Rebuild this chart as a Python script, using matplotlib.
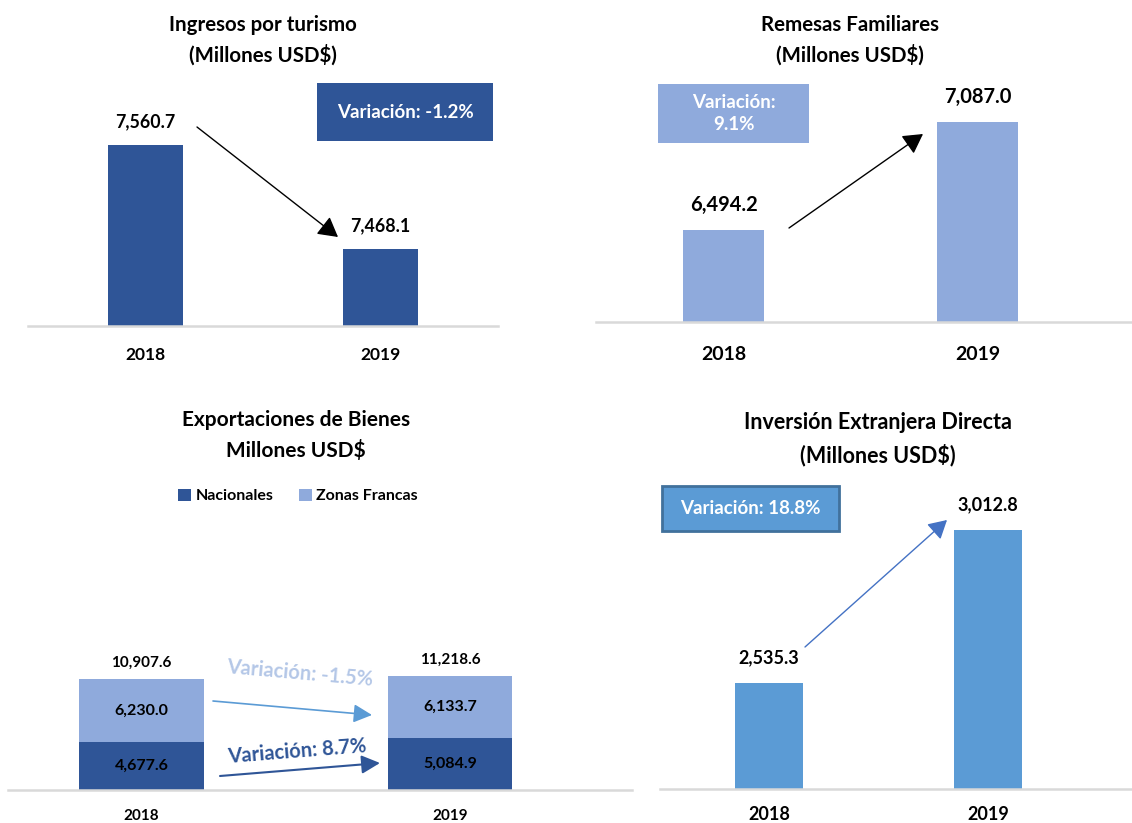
import matplotlib
matplotlib.use("Agg")
import matplotlib.pyplot as plt
from matplotlib.patches import Rectangle, FancyArrowPatch

plt.rcParams['font.family'] = ['Lato', 'DejaVu Sans']
plt.rcParams['font.weight'] = 'bold'

# data
years = ['2018', '2019']
turismo = [7560.7, 7468.1]
remesas = [6494.2, 7087.0]
nacionales = [4677.6, 5084.9]
zonas_francas = [6230.0, 6133.7]
ied = [2535.3, 3012.8]

DARK = '#2F5597'
LIGHT = '#8FAADC'
MID = '#5B9BD5'
GRID = '#D9D9D9'

W, H = 1132, 823
fig = plt.figure(figsize=(W / 100, H / 100), dpi=100)


def add_ax(x0, x1, ytop, ybase):
    return fig.add_axes([x0 / W, 1 - ybase / H, (x1 - x0) / W, (ybase - ytop) / H])


def style(ax, pad, size=12.5):
    for s in ['top', 'left', 'right']:
        ax.spines[s].set_visible(False)
    ax.spines['bottom'].set_color(GRID)
    ax.spines['bottom'].set_linewidth(1.8)
    ax.set_yticks([])
    ax.set_xticks([0, 1], years)
    ax.tick_params(axis='x', length=0, pad=pad, labelsize=size)
    ax.patch.set_alpha(0)


def label(ax, x, y, txt, off=23, size=12.5):
    ax.annotate(txt, (x, y), xytext=(0, off), textcoords='offset pixels',
                ha='center', va='center', fontsize=size, fontweight='bold')


def title(x, y1, y2, l1, l2, size=14.8):
    fig.text(x / W, 1 - y1 / H, l1, ha='center', va='center', fontsize=size, fontweight='bold')
    fig.text(x / W, 1 - y2 / H, l2, ha='center', va='center', fontsize=size, fontweight='bold')


def box(x0, x1, y0, y1, color, txt, edge=None, size=13.5):
    fig.add_artist(Rectangle((x0 / W, 1 - y1 / H), (x1 - x0) / W, (y1 - y0) / H,
                             transform=fig.transFigure, facecolor=color,
                             edgecolor=edge if edge else color, lw=2 if edge else 0))
    fig.text((x0 + x1) / 2 / W, 1 - (y0 + y1) / 2 / H, txt, ha='center', va='center',
             color='white', fontsize=size, fontweight='bold', linespacing=1.4)


def arrow(p0, p1, color='black', lw=1.0, hl=0.8, hw=0.45, ms=15):
    fig.add_artist(FancyArrowPatch(
        (p0[0] / W, 1 - p0[1] / H), (p1[0] / W, 1 - p1[1] / H),
        transform=fig.transFigure, arrowstyle=f'-|>,head_length={hl},head_width={hw}',
        mutation_scale=ms, color=color, lw=lw, shrinkA=0, shrinkB=0))


# Panel 1: Ingresos por turismo
ax1 = add_ax(28, 498, 60, 326)
ax1.bar([0, 1], turismo, width=0.32, color=DARK)
ax1.set_xlim(-0.5, 1.5)
ax1.set_ylim(7400, 7636)
style(ax1, pad=15)
for i, v in enumerate(turismo):
    label(ax1, i, v, f'{v:,.1f}', size=12.8)
title(263, 25, 55, 'Ingresos por turismo', '(Millones USD$)')
box(317, 493, 83, 141, DARK, 'Variación: -1.2%')
arrow((197, 127), (338, 237))

# Panel 2: Remesas Familiares
ax2 = add_ax(596, 1132, 60, 322)
ax2.bar([0, 1], remesas, width=0.319, color=LIGHT)
ax2.set_xlim(-0.502, 1.608)
ax2.set_ylim(5989, 7427)
style(ax2, pad=17, size=14)
for i, v in enumerate(remesas):
    label(ax2, i, v, f'{v:,.1f}', off=25, size=14.5)
title(850, 25, 55, 'Remesas Familiares', '(Millones USD$)')
box(658, 809, 84, 143, LIGHT, 'Variación:\n9.1%')
arrow((789, 228), (923, 134))

# Panel 3: Exportaciones de Bienes
ax3 = add_ax(8, 632, 560, 790)
ax3.bar([0, 1], nacionales, width=0.405, color=DARK, label='Nacionales')
ax3.bar([0, 1], zonas_francas, width=0.405, bottom=nacionales, color=LIGHT, label='Zonas Francas')
ax3.set_xlim(-0.433, 1.59)
ax3.set_ylim(0, 22590)
style(ax3, pad=14, size=11)
for i in range(2):
    total = nacionales[i] + zonas_francas[i]
    label(ax3, i, total, f'{total:,.1f}', off=16, size=11)
    ax3.text(i, nacionales[i] / 2, f'{nacionales[i]:,.1f}', ha='center', va='center', fontsize=11.5)
    ax3.text(i, nacionales[i] + zonas_francas[i] / 2, f'{zonas_francas[i]:,.1f}',
             ha='center', va='center', fontsize=11.5)
title(296, 420, 451, 'Exportaciones de Bienes', 'Millones USD$', size=15)
ax3.legend(loc='center', bbox_to_anchor=(298 / W, 1 - 496 / H), bbox_transform=fig.transFigure,
           ncol=2, frameon=False, handlelength=0.8, handleheight=0.8,
           handletextpad=0.3, columnspacing=1.6, prop={'weight': 'bold', 'size': 11.5})
fig.text(300 / W, 1 - 673 / H, 'Variación: -1.5%', ha='center', va='center', color='#B4C7E7',
         fontsize=14.5, rotation=-5, fontweight='bold')
fig.text(297 / W, 1 - 752 / H, 'Variación: 8.7%', ha='center', va='center', color=DARK,
         fontsize=14.5, rotation=4.5, fontweight='bold')
arrow((213, 701), (372, 715), color=MID, lw=1.2, hl=0.8, hw=0.4, ms=14)
arrow((220, 776), (380, 763), color=DARK, lw=1.5, hl=0.8, hw=0.4, ms=14)

# Panel 4: Inversión Extranjera Directa
ax4 = add_ax(660, 1132, 500, 789)
ax4.bar([0, 1], ied, width=0.31, color=MID)
ax4.set_xlim(-0.498, 1.658)
ax4.set_ylim(2204, 3106.5)
style(ax4, pad=12, size=13)
for i, v in enumerate(ied):
    label(ax4, i, v, f'{v:,.1f}', off=25, size=13)
title(878, 423, 455, 'Inversión Extranjera Directa', '(Millones USD$)', size=15.5)
box(662, 839, 486, 531, MID, 'Variación: 18.8%', edge='#41719C')
arrow((805, 647), (947, 520), color='#4472C4', lw=1.0, ms=14)

fig.savefig('out.png', dpi=100)
